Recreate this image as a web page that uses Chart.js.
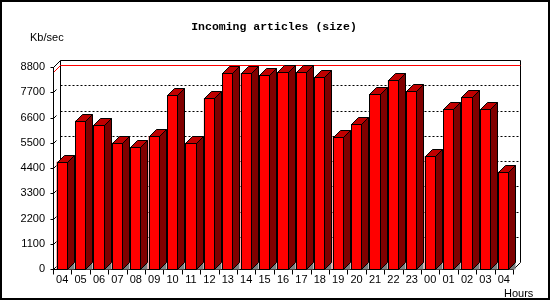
<!DOCTYPE html>
<html>
<head>
<meta charset="utf-8">
<script src="https://cdn.jsdelivr.net/npm/chart.js@4"></script>
<style>
html,body{margin:0;padding:0;background:#fff;}
canvas{display:block;}
</style>
</head>
<body>
<canvas id="c" width="550" height="300"></canvas>
<script>
// ---- data ----
const hours = ['04','05','06','07','08','09','10','11','12','13','14','15','16','17','18','19','20','21','22','23','00','01','02','03','04'];
const sizeKbSec = [4675, 6461, 6259, 5503, 5300, 5794, 7566, 5503, 7435, 8525, 8525, 8437, 8568, 8568, 8350, 5736, 6302, 7609, 8219, 7740, 4908, 6956, 7479, 6956, 4240];
const yTickValues = [0, 1100, 2200, 3300, 4400, 5500, 6600, 7700, 8800];
const titleText = 'Incoming articles (size)';
const yUnitText = 'Kb/sec';
const xUnitText = 'Hours';

const DEPTH = 7;
const LBL_FONT = "11px 'Liberation Sans', Arial, sans-serif";

const frame3d = {
  id: 'frame3d',
  beforeDraw(chart) {
    const ctx = chart.ctx;
    ctx.save();
    ctx.fillStyle = '#fff';
    ctx.fillRect(0, 0, chart.width, chart.height);
    ctx.restore();
  },
  beforeDatasetsDraw(chart) {
    const {ctx, chartArea: a, scales: {x: xs, y: ys}} = chart;
    const D = DEPTH;
    const L = Math.round(a.left) + 0.5, R = Math.round(a.right) + 0.5;
    const B = Math.round(a.bottom) + 0.5;
    const T = Math.round(ys.getPixelForValue(yTickValues[yTickValues.length - 1])) + 0.5;
    ctx.save();
    ctx.lineWidth = 1;
    ctx.strokeStyle = '#000';
    // dashed grid lines on the back plane
    ctx.setLineDash([2, 2]);
    yTickValues.slice(1, -1).forEach(v => {
      const py = Math.round(ys.getPixelForValue(v)) - D + 0.5;
      ctx.beginPath();
      ctx.moveTo(L + D, py);
      ctx.lineTo(R + D, py);
      ctx.stroke();
    });
    ctx.setLineDash([]);
    // back plane frame
    ctx.beginPath();
    ctx.moveTo(L + D, B - D);
    ctx.lineTo(L + D, T - D);
    ctx.lineTo(R + D, T - D);
    ctx.lineTo(R + D, B - D);
    ctx.lineTo(R, B);
    ctx.moveTo(L, T);
    ctx.lineTo(L + D, T - D);
    ctx.stroke();
    // max line (red)
    const maxV = Math.max(...sizeKbSec);
    const my = Math.round(ys.getPixelForValue(maxV)) + 0.5;
    ctx.strokeStyle = '#ff0000';
    ctx.beginPath();
    ctx.moveTo(L, my);
    ctx.lineTo(L + D, my - D);
    ctx.lineTo(R + D, my - D);
    ctx.stroke();
    // front axes
    ctx.strokeStyle = '#000';
    ctx.beginPath();
    ctx.moveTo(L, T);
    ctx.lineTo(L, B);
    ctx.lineTo(R, B);
    ctx.stroke();
    // y ticks
    yTickValues.forEach(v => {
      const py = Math.round(ys.getPixelForValue(v)) + 0.5;
      ctx.beginPath();
      ctx.moveTo(L - 3, py);
      ctx.lineTo(L, py);
      ctx.lineTo(L + 3, py - 3);
      ctx.stroke();
    });
    // x ticks at category boundaries
    const n = hours.length;
    for (let i = 0; i <= n; i++) {
      const px = Math.round(a.left + (a.right - a.left) * i / n) + 0.5;
      ctx.beginPath();
      ctx.moveTo(px, B);
      ctx.lineTo(px, B + 5);
      ctx.stroke();
    }
    ctx.restore();
  },
  afterDatasetsDraw(chart) {
    const {ctx} = chart;
    const D = DEPTH;
    const meta = chart.getDatasetMeta(0);
    ctx.save();
    ctx.lineWidth = 1;
    ctx.strokeStyle = '#000';
    meta.data.forEach(el => {
      const p = el.getProps(['x', 'y', 'base', 'width'], true);
      const l = Math.round(p.x - p.width / 2) + 0.5;
      const r = Math.round(p.x + p.width / 2) - 0.5;
      const t = Math.round(p.y) + 0.5;
      const b = Math.round(p.base) + 0.5;
      // floor triangle
      ctx.fillStyle = '#808080';
      ctx.beginPath();
      ctx.moveTo(r, b); ctx.lineTo(r + D, b - D); ctx.lineTo(r + D, b); ctx.closePath();
      ctx.fill();
      // side
      ctx.fillStyle = '#800000';
      ctx.beginPath();
      ctx.moveTo(r, t); ctx.lineTo(r + D, t - D); ctx.lineTo(r + D, b - D); ctx.lineTo(r, b); ctx.closePath();
      ctx.fill(); ctx.stroke();
      // top
      ctx.fillStyle = '#c00000';
      ctx.beginPath();
      ctx.moveTo(l, t); ctx.lineTo(l + D, t - D); ctx.lineTo(r + D, t - D); ctx.lineTo(r, t); ctx.closePath();
      ctx.fill(); ctx.stroke();
      // front outline
      ctx.strokeRect(l, t, r - l, b - t);
    });
    ctx.restore();
  },
  afterDraw(chart) {
    const {ctx} = chart;
    ctx.save();
    ctx.fillStyle = '#000';
    ctx.font = "bold 11.5px 'Liberation Mono', 'DejaVu Sans Mono', monospace";
    ctx.textAlign = 'center';
    ctx.textBaseline = 'alphabetic';
    ctx.fillText(titleText, 274, 30);
    ctx.font = LBL_FONT;
    ctx.textAlign = 'left';
    ctx.fillText(yUnitText, 30, 41);
    ctx.fillText(xUnitText, 504, 297);
    // outer border
    ctx.strokeStyle = '#000';
    ctx.lineWidth = 2;
    ctx.strokeRect(1, 1, chart.width - 2, chart.height - 2);
    ctx.restore();
  }
};

new Chart(document.getElementById('c'), {
  type: 'bar',
  data: {
    labels: hours,
    datasets: [{
      data: sizeKbSec,
      backgroundColor: '#ff0000',
      borderColor: '#000',
      borderWidth: 0,
      categoryPercentage: 1,
      barPercentage: 0.6
    }]
  },
  options: {
    responsive: false,
    animation: false,
    devicePixelRatio: 1,
    layout: {padding: {top: 67, right: 37, left: 0, bottom: 0}},
    plugins: {legend: {display: false}, title: {display: false}, tooltip: {enabled: false}},
    scales: {
      x: {
        grid: {display: false, drawTicks: false},
        border: {display: false},
        ticks: {color: '#000', font: {family: "'Liberation Sans', Arial, sans-serif", size: 11}, padding: 4, maxRotation: 0, autoSkip: false},
        afterFit(s) { s.height = 31; }
      },
      y: {
        min: 0, max: 8800,
        grid: {display: false, drawTicks: false},
        border: {display: false},
        afterBuildTicks(s) { s.ticks = yTickValues.map(v => ({value: v})); },
        ticks: {color: '#000', font: {family: "'Liberation Sans', Arial, sans-serif", size: 11}, padding: 8, callback: v => String(v)},
        afterFit(s) { s.width = 53; }
      }
    }
  },
  plugins: [frame3d]
});
</script>
</body>
</html>
